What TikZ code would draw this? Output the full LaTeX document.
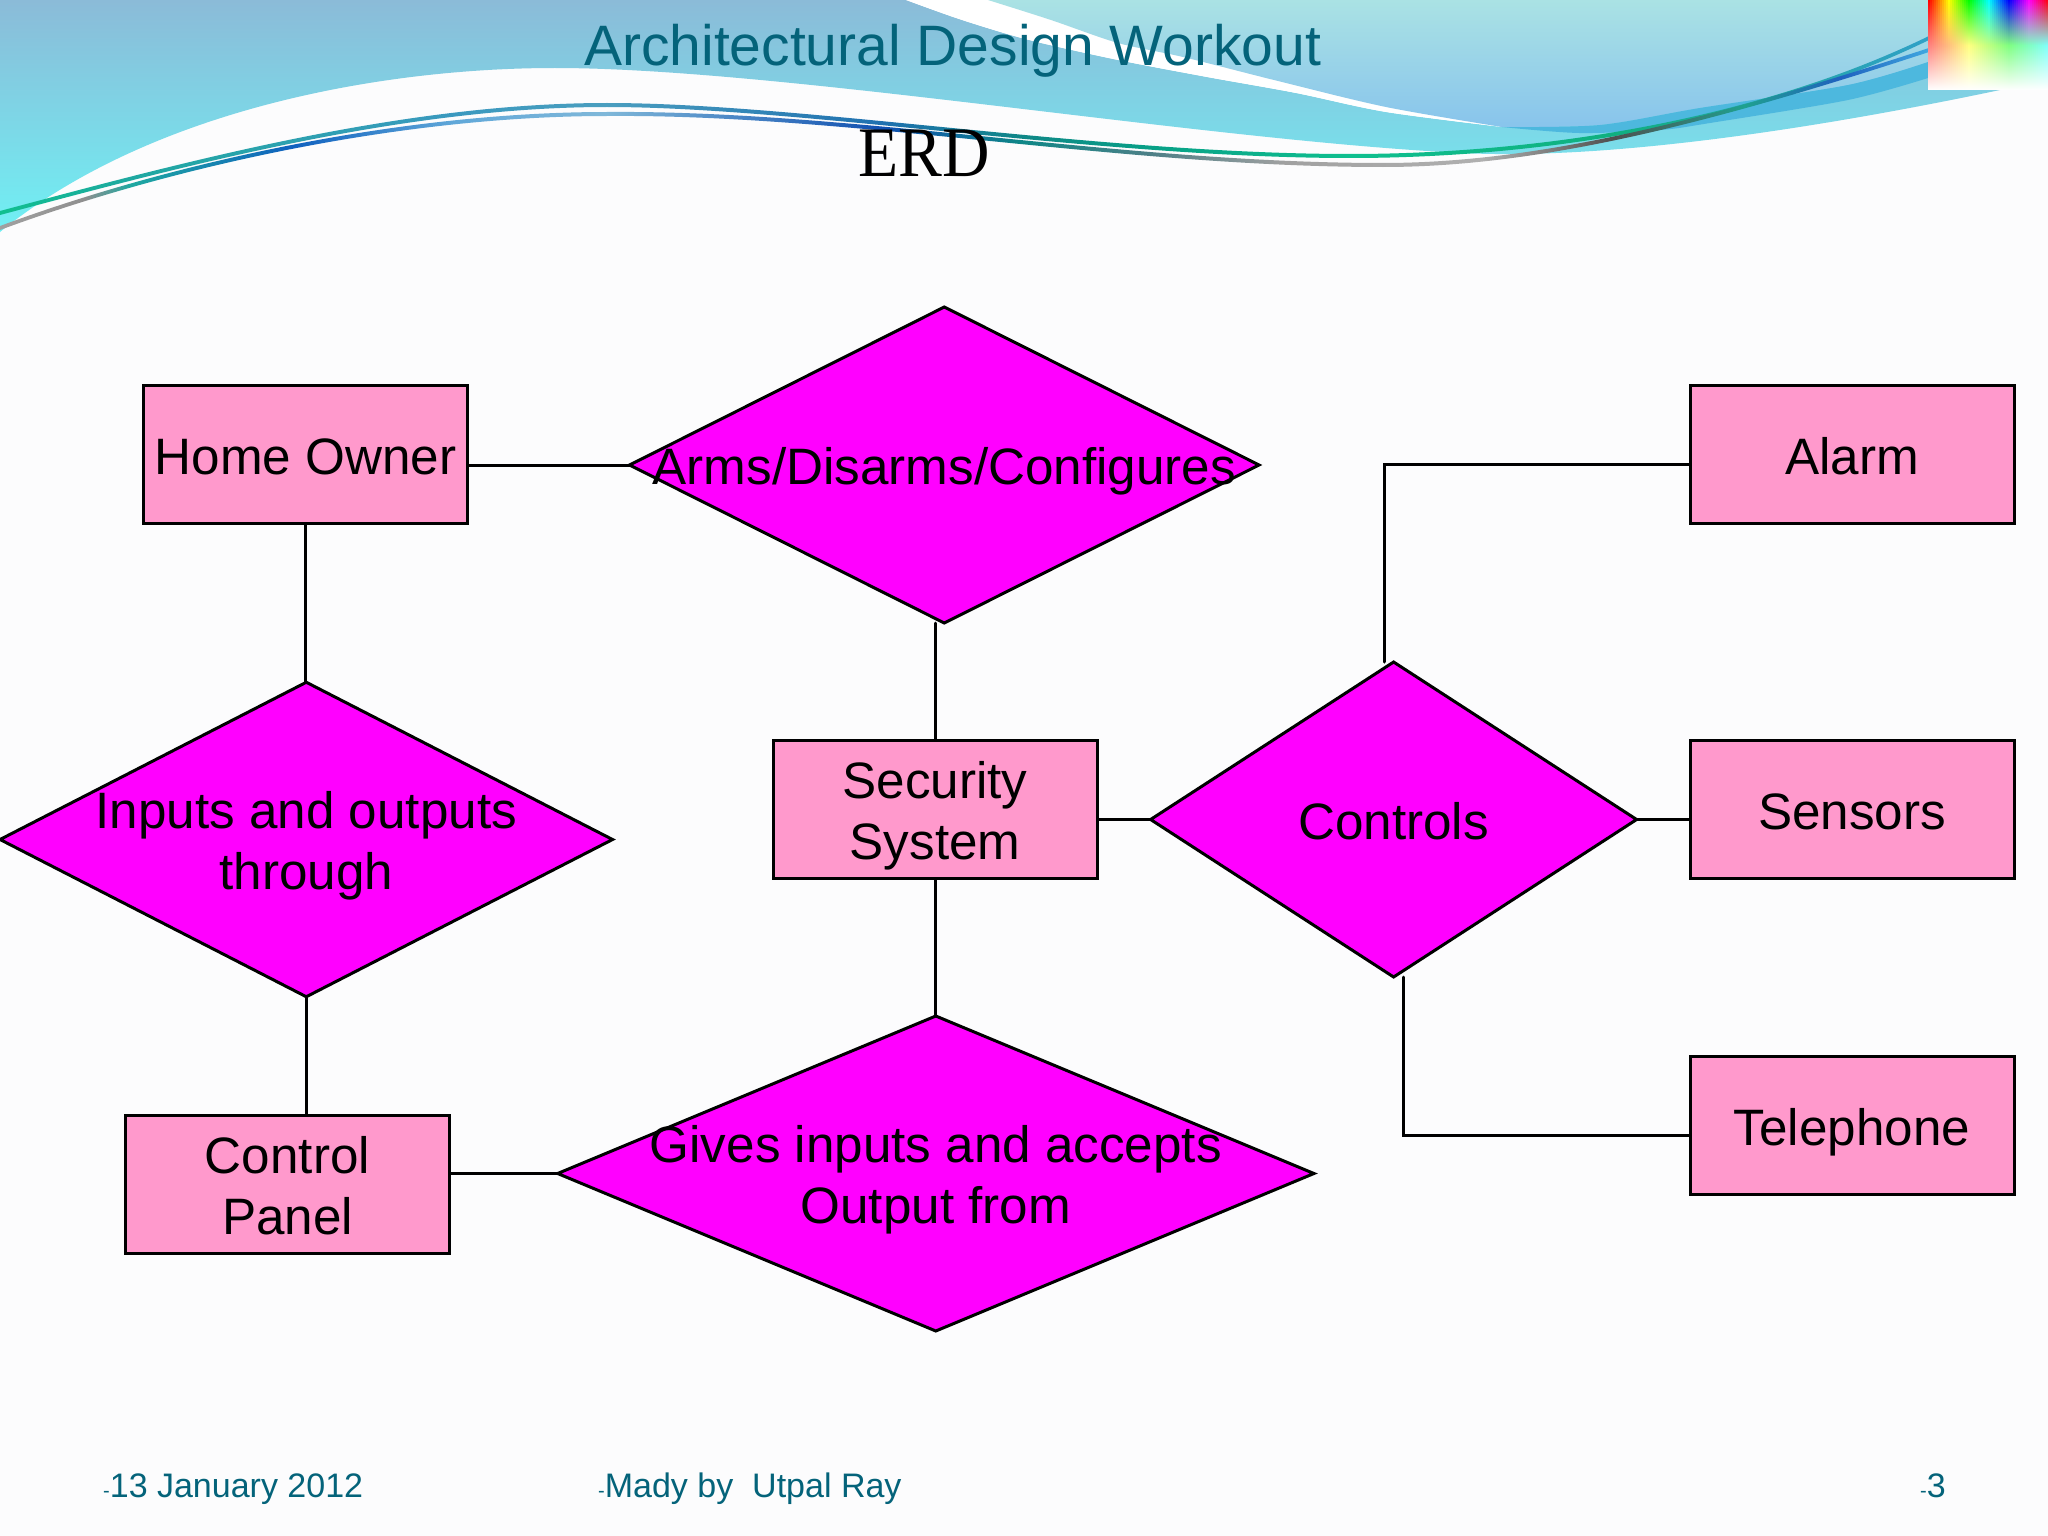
\documentclass[tikz,border=0pt]{standalone}
\usepackage{fontspec}
\setmainfont{Liberation Sans}
\newfontfamily\erdfont[FakeStretch=.925]{Liberation Serif}
\usetikzlibrary{shapes.geometric}
\definecolor{bgc}{HTML}{FCFCFD}
\definecolor{boxc}{HTML}{FF99CC}
\definecolor{diac}{HTML}{FF00FF}
\definecolor{titlec}{HTML}{04637A}
\pgfdeclarehorizontalshading{lineA}{100bp}{
 rgb(0bp)=(.06,.75,.56); rgb(25bp)=(.06,.75,.56); rgb(28.4bp)=(.12,.66,.63); rgb(36.8bp)=(.23,.60,.75);
 rgb(40.7bp)=(.29,.62,.75); rgb(47.9bp)=(.12,.44,.69); rgb(51.5bp)=(.06,.53,.53); rgb(54.9bp)=(.03,.63,.53);
 rgb(60bp)=(.06,.75,.56); rgb(66.8bp)=(.06,.69,.50); rgb(70.2bp)=(.12,.66,.63); rgb(75bp)=(.19,.63,.78); rgb(100bp)=(.19,.63,.78)}
\pgfdeclarehorizontalshading{lineB}{100bp}{
 rgb(0bp)=(.63,.63,.63); rgb(25bp)=(.63,.63,.63); rgb(27.2bp)=(.56,.56,.56); rgb(28.4bp)=(.12,.66,.63); rgb(32.6bp)=(.06,.38,.75);
 rgb(36.8bp)=(.38,.66,.85); rgb(40.7bp)=(.50,.72,.85); rgb(47.9bp)=(.06,.31,.69); rgb(51.5bp)=(.06,.53,.53); rgb(54.9bp)=(.31,.50,.53);
 rgb(58.3bp)=(.63,.63,.63); rgb(63.4bp)=(.69,.69,.69); rgb(66.8bp)=(.31,.31,.31); rgb(70.2bp)=(.12,.63,.56); rgb(72.7bp)=(.12,.38,.75);
 rgb(75bp)=(.25,.66,.88); rgb(100bp)=(.25,.66,.88)}
\tikzset{
 entbox/.style={draw=black,fill=boxc,line width=3pt,minimum width=324pt,minimum height=138.5pt,inner sep=0pt,align=center,font=\fontsize{51.2}{61.4}\selectfont},
 reldia/.style={draw=black,fill=diac,line width=3pt,diamond,inner sep=0pt,outer sep=0pt},
 diatext/.style={align=center,font=\fontsize{51.2}{61.4}\selectfont,text=black},
 conn/.style={draw=black,line width=3pt,line cap=round},
 foot/.style={anchor=base west,text=titlec,inner sep=0pt,font=\fontsize{34}{34}\selectfont}
}
\newcommand{\smalldash}{{\fontsize{20}{20}\selectfont-}}
\newcommand{\txl}[1]{\smash{#1}\rule[-9.8pt]{0pt}{58.8pt}}
\begin{document}
\begin{tikzpicture}[x=1pt,y=-1pt]
\useasboundingbox (0,0) rectangle (2048,1536);
\fill[bgc] (0,0) rectangle (2048,1536);
% wave: main band
\shade[top color={rgb,255:red,139;green,187;blue,216},bottom color={rgb,255:red,112;green,240;blue,244}]
  (0,0) -- (906,0)
  -- plot[smooth,tension=.5] coordinates {(906,0)(962,20)(1029,40)(1118,60)(1207,77)(1296,93)(1386,112)(1502,127)}
  -- (1928,62) -- (1928,90) -- (2000,90)
  .. controls (1800,132) and (1600,160) .. (1462,153)
  .. controls (1200,140) and (780,68) .. (555,68)
  .. controls (380,68) and (150,110) .. (0,232)
  -- cycle;
% white wedge
\fill[white] plot[smooth,tension=.5] coordinates {(906,0)(962,20)(1029,40)(1118,60)(1207,77)(1296,93)(1386,112)(1502,127)}
  -- plot[smooth,tension=.5] coordinates {(1502,127)(1386,107)(1274,80)(1183,57)(1118,43)(1051,20)(988,0)} -- cycle;
% right sky
\shade[top color={rgb,255:red,170;green,226;blue,228},bottom color={rgb,255:red,136;green,196;blue,236}]
  (988,0) -- plot[smooth,tension=.5] coordinates {(988,0)(1051,20)(1118,43)(1183,57)(1274,80)(1386,107)(1502,127)}
  -- plot[smooth,tension=.5] coordinates {(1502,127)(1600,125)(1700,108)(1848,85)(1928,62)}
  -- (1928,0) -- cycle;
% blue band
\fill[color={rgb,255:red,77;green,184;blue,222}]
  plot[smooth,tension=.5] coordinates {(1502,127)(1600,125)(1700,108)(1848,85)(1928,62)}
  -- (1928,78)
  -- plot[smooth,tension=.5] coordinates {(1928,78)(1848,100)(1710,123)(1660,130)(1579,133)(1502,127)} -- cycle;
% swooshes
\shade[shading=lineA]
  (0,211) .. controls (180,163) and (400,103) .. (607,103)
  .. controls (800,103) and (1100,154) .. (1350,154)
  .. controls (1530,154) and (1750,123) .. (1929,36)
  -- (1929,40)
  .. controls (1750,127) and (1530,158) .. (1350,158)
  .. controls (1100,158) and (800,107) .. (607,107)
  .. controls (400,107) and (180,167) .. (0,215) -- cycle;
\shade[shading=lineB]
  (0,226) .. controls (170,163) and (400,112) .. (607,112)
  .. controls (850,110) and (1120,163) .. (1383,163)
  .. controls (1550,163) and (1730,113) .. (1929,48)
  -- (1929,52)
  .. controls (1730,117) and (1550,167) .. (1383,167)
  .. controls (1120,167) and (850,114) .. (607,116)
  .. controls (400,116) and (170,167) .. (0,230) -- cycle;
% colour square
\foreach \i in {0,...,59}{
  \pgfmathsetmacro{\hh}{\i/60}
  \definecolor{wc}{hsb}{\hh,1,1}
  \shade[top color=wc,middle color=wc!38!white,bottom color=white] ({1928+2*\i},0) rectangle ({1928+2*\i+2.6},90);
}
% title
\node[anchor=base west,inner sep=0pt,text=titlec,font=\fontsize{57}{60}\selectfont] (title) at (584,65.7) {Architectural Design Workout};
\node[anchor=base,inner sep=0pt,text=black,font=\erdfont\fontsize{71}{74}\selectfont] (erd) at (924,176.5) {ERD};
% entities
\node[entbox] (ho) at (305.5,454.5) {\txl{Home Owner}};
\node[entbox] (alarm) at (1852,454.5) {\txl{Alarm}};
\node[entbox] (sec) at (935,809.5) {\txl{Security}\\\txl{System}};
\node[entbox] (sens) at (1852,809.5) {\txl{Sensors}};
\node[entbox] (tel) at (1852,1125.5) {\txl{Telephone}};
\node[entbox] (cp) at (287.5,1184.5) {\txl{Control}\\\txl{Panel}};
% relationships
\node[reldia,minimum width=629.5pt,minimum height=316pt,label={[diatext]center:\txl{Arms/Disarms/Configures}}] (arms) at (944.3,465) {};
\node[reldia,minimum width=612.5pt,minimum height=314.5pt,label={[diatext]center:\txl{Inputs and outputs}\\\txl{through}}] (inp) at (306.3,839.5) {};
\node[reldia,minimum width=486pt,minimum height=315pt,label={[diatext]center:\txl{Controls}}] (ctl) at (1393.6,819.5) {};
\node[reldia,minimum width=756.3pt,minimum height=315pt,label={[diatext]center:\txl{Gives inputs and accepts}\\\txl{Output from}}] (giv) at (935.8,1173.5) {};
% free bends
\coordinate (abend) at (1384.5,464);
\coordinate (adrop) at (1384.5,662);
\coordinate (tbend) at (1403,1135);
\coordinate (tdrop) at (1403,977);
% connectors
\draw[conn] (ho.east |- arms.west) -- (arms.west);
\draw[conn] (ho.south) -- (ho.south |- inp.north);
\draw[conn] (inp.south) -- (inp.south |- cp.north);
\draw[conn] (cp.east |- giv.west) -- (giv.west);
\draw[conn] (sec.north |- arms.south) -- (sec.north);
\draw[conn] (sec.south) -- (sec.south |- giv.north);
\draw[conn] (sec.east |- ctl.west) -- (ctl.west);
\draw[conn] (ctl.east) -- (sens.west |- ctl.east);
\draw[conn] (alarm.west |- abend) -- (abend) -- (adrop);
\draw[conn] (tel.west |- tbend) -- (tbend) -- (tdrop);
% footer
\node[foot] (fdate) at (103,1497) {\smalldash 13 January 2012};
\node[foot] (fname) at (598,1497) {\smalldash Mady by \ Utpal Ray};
\node[foot] (fnum) at (1920,1497) {\smalldash 3};
\end{tikzpicture}
\end{document}
